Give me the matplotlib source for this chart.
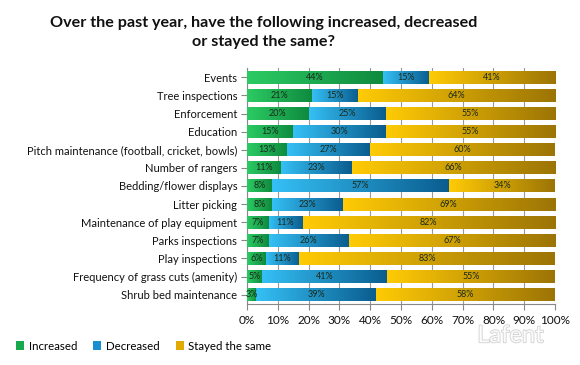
import matplotlib
matplotlib.use("Agg")
import matplotlib.pyplot as plt
import matplotlib.patheffects as pe
import numpy as np
from matplotlib.colors import LinearSegmentedColormap
from matplotlib.patches import Patch

plt.rcParams['font.family'] = ['Lato', 'DejaVu Sans']

categories = ["Events", "Tree inspections", "Enforcement", "Education",
              "Pitch maintenance (football, cricket, bowls)", "Number of rangers",
              "Bedding/flower displays", "Litter picking", "Maintenance of play equipment",
              "Parks inspections", "Play inspections", "Frequency of grass cuts (amenity)",
              "Shrub bed maintenance"]
increased = [44, 21, 20, 15, 13, 11, 8, 8, 7, 7, 6, 5, 3]
decreased = [15, 15, 25, 30, 27, 23, 57, 23, 11, 26, 11, 41, 39]
same = [41, 64, 55, 55, 60, 66, 34, 69, 82, 67, 83, 55, 58]
series_names = ["Increased", "Decreased", "Stayed the same"]
xticks = [0, 10, 20, 30, 40, 50, 60, 70, 80, 90, 100]

grads = [("#2ccb64", "#0f8a3e"), ("#35c0f5", "#0a5c8e"), ("#ffcb05", "#9c7406")]
solid = ["#1aa84e", "#1a8fd0", "#e0aa00"]

fig = plt.figure(figsize=(5.8, 3.65), dpi=100)
ax = fig.add_axes([0.426, 0.168, 0.531, 0.645])

y = np.arange(len(categories))
all_series = [np.array(s, dtype=float) for s in (increased, decreased, same)]
totals = sum(all_series)
left = np.zeros(len(categories))
bh = 0.72
for si, vals in enumerate(all_series):
    widths = vals / totals * 100.0  # 100% stacked
    bars = ax.barh(y, widths, left=left, height=bh, color=solid[si], zorder=2)
    cmap = LinearSegmentedColormap.from_list("g%d" % si, grads[si])
    grad = np.linspace(0, 1, 256).reshape(1, -1)
    for b, v in zip(bars, vals):
        x0, y0 = b.get_x(), b.get_y()
        w, h = b.get_width(), b.get_height()
        im = ax.imshow(grad, cmap=cmap, aspect='auto', extent=[x0, x0 + w, y0 + h, y0],
                       zorder=3, interpolation='bilinear')
        im.set_clip_path(b)
        ax.text(x0 + w / 2, y0 + h / 2, "%d%%" % v, ha='center', va='center',
                fontsize=6.5, color="#1a2a1a", zorder=4)
    left = left + widths

ax.set_xlim(0, 100)
ax.set_ylim(len(categories) - 0.5, -0.5)
ax.set_yticks(y)
ax.set_yticklabels(categories, fontsize=8, color="#111111")
ax.set_xticks(xticks)
ax.set_xticklabels(["%d%%" % t for t in xticks], fontsize=8.5, color="#111111")
ax.grid(axis='x', color="#9a9a9a", linewidth=0.8, zorder=0)
ax.set_axisbelow(True)
for s in ["top", "right"]:
    ax.spines[s].set_visible(False)
ax.spines['left'].set_color("#888888")
ax.spines['bottom'].set_color("#888888")
ax.tick_params(axis='y', length=4, color="#888888", pad=3)
ax.tick_params(axis='x', length=4, color="#888888", pad=4)

fig.text(0.455, 0.91, "Over the past year, have the following increased, decreased\nor stayed the same?",
         ha='center', va='center', fontsize=11.6, fontweight='bold', color="#111111",
         linespacing=1.45)

handles = [Patch(facecolor=solid[i]) for i in range(3)]
fig.legend(handles, series_names, loc='center', bbox_to_anchor=(0.248, 0.052), ncol=3,
           frameon=False, fontsize=8.3, handlelength=0.7, handleheight=0.7,
           columnspacing=1.4, handletextpad=0.4)

fig.text(0.88, 0.08, "Lafent", ha='center', va='center', fontsize=17, color="white",
         alpha=0.9, path_effects=[pe.withStroke(linewidth=1.2, foreground="#cccccc")])

fig.savefig("out.png", dpi=100)
